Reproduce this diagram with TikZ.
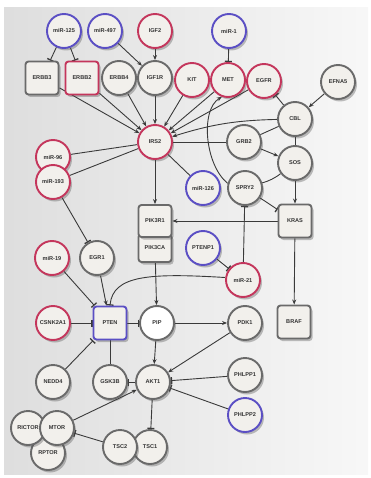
\documentclass[tikz,border=0pt]{standalone}
\usepackage{fontspec}
\setmainfont{Liberation Sans}
\usetikzlibrary{arrows.meta,shadows,backgrounds}
\definecolor{redb}{HTML}{C4365C}
\definecolor{blueb}{HTML}{5B4FC4}
\definecolor{grayb}{HTML}{6A6A6A}
\definecolor{nfill}{HTML}{F2F0EC}
\definecolor{edgec}{HTML}{3A3A3A}
\definecolor{txtc}{HTML}{333333}
\begin{document}
\begin{tikzpicture}[x=1pt,y=-1pt,
  base/.style={line width=1.9pt, fill=nfill, text=txtc, inner sep=0pt,
    font=\fontsize{5.6}{6.5}\selectfont\bfseries,
    drop shadow={shadow xshift=2pt, shadow yshift=-2.5pt, opacity=0.35, fill=black!70}},
  gn/.style={base, circle, draw=grayb, minimum size=34pt},
  rn/.style={base, circle, draw=redb, minimum size=34pt},
  bn/.style={base, circle, draw=blueb, minimum size=34pt},
  gb/.style={base, rectangle, rounded corners=3pt, draw=grayb, minimum width=33pt, minimum height=33pt},
  rb/.style={gb, draw=redb},
  bb/.style={gb, draw=blueb},
  act/.style={draw=edgec, line width=0.9pt, -{Stealth[length=5pt,width=4pt]}},
  inh/.style={draw=edgec, line width=0.9pt, -{Bar[width=7pt,line width=1.3pt]}},
  pl/.style={draw=edgec, line width=0.9pt}]
\useasboundingbox (0,0) rectangle (370,478);
\begin{scope}[on background layer]
  \shade[left color=black!13, right color=black!3] (4,8) rectangle (368,474);
\end{scope}
% nodes
\node[bn] (miR125) at (64,31) {miR-125};
\node[bn] (miR497) at (105,31) {miR-497};
\node[rn] (IGF2) at (155,31) {IGF2};
\node[bn] (miR1) at (229,31) {miR-1};
\node[gb] (ERBB3) at (42,78) {ERBB3};
\node[rb] (ERBB2) at (82,78) {ERBB2};
\node[gn] (ERBB4) at (119,78) {ERBB4};
\node[gn] (IGF1R) at (155,78) {IGF1R};
\node[rn] (KIT) at (192,80) {KIT};
\node[rn] (MET) at (228,80) {MET};
\node[rn] (EGFR) at (264,81) {EGFR};
\node[gn] (EFNA5) at (338,82) {EFNA5};
\node[gn] (CBL) at (295,119) {CBL};
\node[gn] (GRB2) at (244,142) {GRB2};
\node[gn] (SOS) at (295,163) {SOS};
\node[rn] (IRS2) at (155,142) {IRS2};
\node[rn] (miR96) at (53,157) {miR-96};
\node[rn] (miR193) at (53,182) {miR-193};
\node[bn] (miR126) at (203,188) {miR-126};
\node[gn] (SPRY2) at (245,188) {SPRY2};
\node[gb, minimum height=28pt] (PIK3CA) at (155,248) {\raisebox{-3pt}{PIK3CA}};
\node[gb, minimum height=32pt] (PIK3R1) at (155,221) {PIK3R1};
\node[gb] (KRAS) at (295,221) {KRAS};
\node[rn] (miR19) at (52,258) {miR-19};
\node[gn] (EGR1) at (97,258) {EGR1};
\node[bn] (PTENP1) at (203,248) {PTENP1};
\node[rn] (miR21) at (243,280) {miR-21};
\node[rn] (CSNK2A1) at (53,323) {CSNK2A1};
\node[bb] (PTEN) at (110,323) {PTEN};
\node[gn, fill=white] (PIP) at (157,323) {PIP};
\node[gn] (PDK1) at (245,323) {PDK1};
\node[gb] (BRAF) at (294,322) {BRAF};
\node[gn] (NEDD4) at (53,382) {NEDD4};
\node[gn] (GSK3B) at (110,382) {GSK3B};
\node[gn] (AKT1) at (153,382) {AKT1};
\node[gn] (PHLPP1) at (245,375) {PHLPP1};
\node[bn] (PHLPP2) at (245,415) {PHLPP2};
\node[gn] (RPTOR) at (48,453) {RPTOR};
\node[gn] (RICTOR) at (28,428) {RICTOR};
\node[gn] (MTOR) at (57,428) {MTOR};
\node[gn] (TSC1) at (150,447) {TSC1};
\node[gn] (TSC2) at (120,447) {TSC2};
% edges
\begin{scope}[on background layer]
  \draw[inh] (miR125) -- (ERBB3);
  \draw[inh] (miR125) -- (ERBB2);
  \draw[act] (miR497) -- (IGF1R);
  \draw[act] (IGF2) -- (IGF1R);
  \draw[inh] (miR1) -- (MET);
  \draw[act] (EFNA5) -- (CBL);
  \draw[inh] (CBL) -- (EGFR);
  \foreach \s in {ERBB3,ERBB2,ERBB4,IGF1R,KIT,MET,EGFR}
    \draw[act] (\s) -- (IRS2);
  \draw[act] (CBL) to[bend right=8] (IRS2);
  \draw[act] (SPRY2.165) .. controls (205,165) and (200,110) .. (MET.250);
  \draw[pl] (IRS2) -- (GRB2);
  \draw[pl] (GRB2) -- (CBL);
  \draw[pl] (CBL) -- (SOS);
  \draw[act] (GRB2) -- (SOS);
  \draw[pl] (SPRY2) to[bend right=10] (SOS);
  \draw[act] (SOS) -- (KRAS);
  \draw[inh] (SPRY2) -- (KRAS);
  \draw[act] (KRAS) -- (PIK3R1);
  \draw[pl] (miR96) -- (IRS2);
  \draw[pl] (miR193) -- (IRS2);
  \draw[pl] (miR126) -- (IRS2);
  \draw[act] (IRS2) -- (PIK3R1);
  \draw[inh] (miR193) -- (EGR1);
  \draw[inh] (miR21) -- (SPRY2);
  \draw[inh] (PTENP1) -- (miR21);
  \draw[inh] (miR21.172) .. controls (150,273) and (113,275) .. (PTEN.north);
  \draw[act] (KRAS) -- (BRAF);
  \draw[inh] (miR19) -- (PTEN);
  \draw[act] (EGR1) -- (PTEN);
  \draw[inh] (CSNK2A1) -- (PTEN);
  \draw[inh] (NEDD4) -- (PTEN);
  \draw[pl] (GSK3B) -- (PTEN);
  \draw[inh] (PTEN) -- (PIP);
  \draw[act] (PIK3CA) -- (PIP);
  \draw[act] (PIP) -- (PDK1);
  \draw[act] (PIP) -- (AKT1);
  \draw[act] (PDK1) -- (AKT1);
  \draw[inh] (PHLPP1) -- (AKT1);
  \draw[inh] (PHLPP2) -- (AKT1);
  \draw[inh] (AKT1) -- (GSK3B);
  \draw[act] (MTOR) -- (AKT1);
  \draw[inh] (TSC2) -- (MTOR);
  \draw[inh] (AKT1) -- (TSC1);
\end{scope}
\end{tikzpicture}
\end{document}
